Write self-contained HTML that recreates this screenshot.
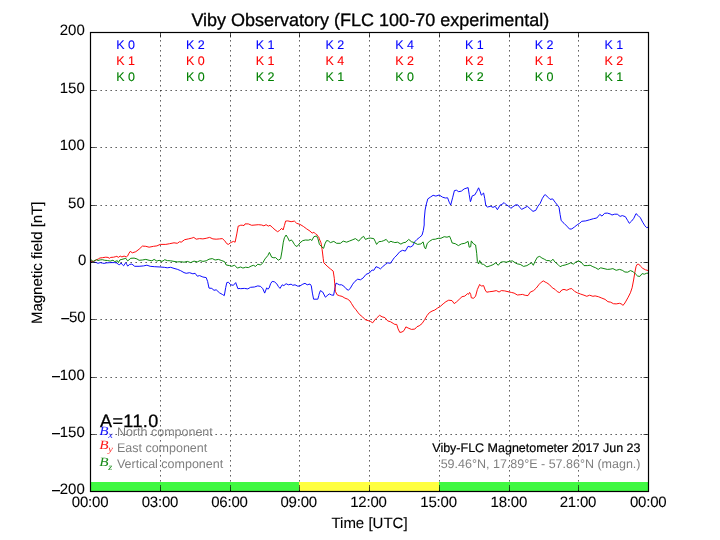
<!DOCTYPE html>
<html><head><meta charset="utf-8"><title>Viby Observatory</title>
<style>
html,body{margin:0;padding:0;background:#fff;}
body{width:720px;height:540px;overflow:hidden;position:relative;font-family:"Liberation Sans",sans-serif;}
</style></head><body>
<svg width="720" height="540" viewBox="0 0 720 540" style="position:absolute;left:0;top:0;will-change:transform;text-rendering:geometricPrecision;font-family:'Liberation Sans',sans-serif">
<rect x="0" y="0" width="720" height="540" fill="#fff"/>
<rect x="90.50" y="482" width="208.50" height="9.5" fill="#40f842"/>
<rect x="299.00" y="482" width="140.00" height="9.5" fill="#ffff40"/>
<rect x="439.00" y="482" width="209.50" height="9.5" fill="#40f842"/>
<g stroke="#000" stroke-width="0.62" stroke-dasharray="1.6,3.4" fill="none">
<line x1="160.50" y1="491.60" x2="160.50" y2="32.50"/>
<line x1="230.50" y1="491.60" x2="230.50" y2="32.50"/>
<line x1="299.50" y1="491.60" x2="299.50" y2="32.50"/>
<line x1="369.50" y1="491.60" x2="369.50" y2="32.50"/>
<line x1="439.50" y1="491.60" x2="439.50" y2="32.50"/>
<line x1="509.50" y1="491.60" x2="509.50" y2="32.50"/>
<line x1="578.50" y1="491.60" x2="578.50" y2="32.50"/>
<line x1="90.40" y1="434.50" x2="648.50" y2="434.50"/>
<line x1="90.40" y1="377.50" x2="648.50" y2="377.50"/>
<line x1="90.40" y1="319.50" x2="648.50" y2="319.50"/>
<line x1="90.40" y1="262.50" x2="648.50" y2="262.50"/>
<line x1="90.40" y1="205.50" x2="648.50" y2="205.50"/>
<line x1="90.40" y1="147.50" x2="648.50" y2="147.50"/>
<line x1="90.40" y1="90.50" x2="648.50" y2="90.50"/>
</g>
<g clip-path="url(#ax)">
<polyline points="91.1,261.6 93.6,262.0 96.3,262.6 98.0,263.3 100.2,262.6 102.4,263.1 104.1,263.4 106.3,262.9 109.1,262.7 111.9,262.6 114.7,262.6 116.9,263.0 118.3,264.4 119.7,264.7 121.1,263.0 122.4,264.7 123.6,265.8 124.9,263.8 125.8,262.7 126.9,264.7 127.7,266.1 129.7,264.4 131.9,264.1 134.7,266.3 139.1,266.3 143.6,265.9 146.9,265.2 150.2,266.3 154.7,266.7 160.2,267.0 164.0,267.3 164.7,267.4 167.3,267.8 170.7,267.3 174.0,268.4 177.3,269.3 180.7,270.7 184.0,272.6 186.2,273.3 189.6,272.7 192.9,273.8 195.1,273.3 197.3,276.2 199.6,275.6 202.9,277.0 206.2,277.6 207.6,281.4 209.0,288.1 211.8,288.4 214.0,290.3 216.2,289.8 219.6,292.9 222.3,294.4 224.3,295.6 225.7,287.6 226.8,282.6 228.4,282.2 230.7,284.8 233.4,285.3 235.7,282.6 237.9,288.7 240.0,288.4 240.7,288.7 244.0,288.4 244.4,288.4 247.8,288.9 250.6,287.3 254.4,287.0 257.8,285.9 260.6,286.4 262.8,288.7 264.7,293.1 266.7,287.8 267.8,289.2 269.1,288.1 270.6,283.7 272.2,281.4 274.4,281.8 276.7,283.7 278.3,286.4 280.0,288.4 282.2,284.8 283.9,285.6 286.1,283.7 288.3,284.8 291.1,284.2 292.8,285.3 295.0,284.8 297.8,286.2 300.0,285.9 302.8,284.2 305.0,283.3 307.2,284.8 310.0,284.0 311.3,285.9 312.4,293.1 313.6,299.2 317.7,299.2 317.8,299.2 318.9,295.3 319.1,294.2 320.4,290.6 322.7,292.0 325.4,297.2 327.1,295.7 329.3,293.9 331.6,295.0 333.6,295.3 334.7,289.2 336.0,283.1 337.7,283.9 339.3,284.8 341.6,284.8 343.8,286.1 346.0,288.7 348.4,290.3 350.4,288.1 352.7,284.2 354.9,281.4 357.7,279.2 360.4,279.8 363.2,277.9 366.0,274.4 369.3,273.0 372.1,270.0 373.8,270.3 376.0,266.7 378.8,267.8 380.4,268.9 382.7,266.7 385.4,264.4 387.7,262.8 390.4,263.3 392.7,260.0 394.2,257.8 394.9,257.2 397.0,255.0 399.8,251.7 402.6,250.3 405.3,251.1 408.1,246.3 410.3,247.0 412.6,245.9 414.8,241.7 417.0,239.4 419.8,237.2 422.0,235.2 423.3,230.6 424.2,225.0 424.2,220.0 425.1,210.0 426.4,203.9 427.8,198.9 430.3,197.2 433.1,195.3 435.9,196.1 439.2,195.0 442.6,197.2 445.3,198.0 447.6,197.8 449.2,202.2 450.7,205.0 452.6,197.8 454.4,190.6 456.4,190.2 458.7,191.7 461.4,191.1 464.2,188.9 468.1,187.6 469.2,194.4 470.4,201.7 470.7,201.1 472.2,195.9 474.7,195.0 476.7,191.7 478.6,187.8 480.2,191.7 481.3,195.2 483.6,193.0 484.7,198.3 485.8,205.6 487.4,207.0 490.8,206.3 493.0,207.4 495.2,206.3 497.4,209.7 500.2,205.0 501.9,204.4 504.1,202.6 506.3,204.8 508.6,206.1 510.8,208.3 513.0,206.7 515.8,204.8 518.0,205.0 519.7,207.2 521.6,209.4 524.1,208.1 527.4,206.3 530.2,208.9 533.0,211.4 535.8,210.3 538.0,206.1 540.2,203.3 542.4,198.3 544.7,194.8 545.7,195.0 546.9,196.1 547.9,197.2 550.1,199.4 552.7,198.9 555.1,202.2 557.3,205.0 559.0,207.2 560.1,214.4 561.2,220.6 564.0,223.3 566.8,226.1 569.6,229.1 571.8,228.9 574.6,226.9 577.3,224.7 579.6,223.3 581.8,221.3 585.7,220.9 589.6,219.8 593.4,218.7 596.8,218.0 598.4,216.1 599.8,214.4 602.0,216.1 604.6,213.3 607.3,213.1 610.1,213.9 612.0,215.0 614.6,214.2 617.3,214.2 620.1,216.4 622.3,215.6 625.4,216.7 627.7,220.6 629.3,223.3 631.6,221.1 633.8,218.3 636.0,213.6 638.2,215.6 640.4,217.8 642.7,222.2 644.9,225.8 646.6,227.6 648.4,227.2" fill="none" stroke="#0000ff" stroke-width="0.95" stroke-linejoin="round"/>
<polyline points="90.8,261.1 91.3,261.3 93.6,261.3 96.3,259.9 98.6,258.8 99.9,258.0 102.4,257.7 105.8,257.2 108.0,257.4 109.4,258.3 110.8,257.4 113.6,257.2 115.8,256.6 116.9,256.3 118.3,257.4 120.2,256.1 121.9,256.9 124.1,256.1 126.3,256.9 127.7,255.9 128.6,253.9 130.2,251.4 132.4,252.8 135.8,251.7 139.1,249.2 142.4,246.1 145.8,246.3 149.1,247.2 153.6,246.3 156.9,245.9 160.2,244.4 164.0,244.4 165.8,244.4 169.6,243.7 174.0,242.8 177.3,243.3 179.6,241.7 181.2,242.2 184.6,239.7 188.4,238.9 191.8,238.1 193.8,237.4 196.2,239.2 199.6,238.6 202.9,238.9 206.2,238.3 209.6,237.4 212.9,238.9 216.2,239.2 219.6,238.9 222.3,238.6 224.6,240.6 226.8,243.7 228.4,244.4 230.7,242.6 233.4,241.4 235.1,242.2 236.8,233.9 238.2,226.1 240.0,225.6 240.7,225.2 242.8,225.3 244.0,225.6 245.0,223.9 248.3,223.9 251.7,225.3 255.0,225.0 258.3,224.7 261.7,225.0 263.9,225.8 266.1,224.7 268.3,226.1 270.0,225.3 272.2,227.2 275.0,229.8 277.6,231.7 279.4,230.6 281.7,228.3 283.1,230.0 284.4,225.6 285.6,221.1 287.8,220.9 291.1,221.7 294.4,221.1 296.7,223.3 300.0,224.4 303.3,226.4 306.7,228.9 310.0,231.1 312.2,233.1 313.9,232.2 316.0,234.4 316.7,234.4 317.7,236.1 318.9,237.2 319.3,238.9 321.0,242.8 322.1,249.4 323.2,258.3 323.8,262.8 327.1,266.1 330.4,268.9 333.2,271.1 334.3,278.3 334.7,283.7 335.4,291.4 337.1,294.8 339.3,295.7 342.1,296.4 344.9,298.1 347.7,299.2 349.9,300.9 351.6,303.7 353.8,307.2 356.0,309.8 358.2,312.8 359.9,314.8 362.7,317.0 365.4,319.8 368.2,320.6 370.4,321.4 372.7,322.8 374.9,319.8 377.1,317.6 379.6,315.3 382.1,316.8 384.9,317.6 387.7,320.9 390.4,321.7 393.2,323.4 394.8,324.4 396.7,324.4 398.1,328.9 399.8,332.4 402.0,332.0 404.0,330.6 405.9,326.9 408.1,328.0 411.4,329.4 414.8,329.1 417.0,326.7 419.2,325.8 422.0,323.6 424.8,319.4 427.0,315.6 429.2,312.8 432.0,311.1 434.8,310.0 437.6,308.0 440.3,306.4 443.1,303.9 445.9,301.7 448.7,300.2 452.0,300.6 454.2,303.6 456.4,302.0 459.2,299.4 462.0,296.7 464.8,296.1 467.6,293.6 468.4,294.4 469.6,292.4 470.7,294.4 471.3,297.8 471.4,297.8 473.6,298.3 475.6,296.1 477.4,289.4 479.7,284.4 481.3,286.1 483.6,285.6 485.2,290.0 486.7,292.2 489.7,291.7 493.0,291.3 496.3,290.6 499.1,292.0 501.3,290.6 504.7,290.9 508.0,291.7 511.3,292.4 514.1,293.1 517.4,295.0 520.2,294.7 522.4,294.4 525.2,295.3 528.0,295.6 530.2,292.2 533.6,290.6 536.3,288.0 539.1,284.4 541.3,282.2 543.3,280.9 545.8,282.4 546.8,282.8 549.6,284.8 552.3,287.8 555.1,289.4 557.3,291.7 559.6,292.6 561.8,290.0 564.0,289.4 566.8,290.3 569.6,288.9 571.8,288.6 574.6,291.4 577.3,292.8 580.7,294.1 584.0,295.2 586.8,296.3 589.6,295.2 592.9,296.3 595.1,295.9 598.4,296.7 601.8,298.1 605.1,299.4 607.9,301.7 610.7,302.2 613.4,303.7 616.2,303.9 619.6,303.3 621.8,304.1 622.7,305.3 624.0,304.4 626.0,301.1 628.2,297.2 630.4,292.8 632.1,287.8 633.6,280.0 634.9,272.2 636.0,266.7 637.1,264.4 638.8,264.2 640.4,266.1 642.7,268.3 645.4,269.8 648.4,270.6" fill="none" stroke="#ff0000" stroke-width="0.95" stroke-linejoin="round"/>
<polyline points="91.1,259.4 92.2,261.1 93.6,261.3 95.2,260.3 96.6,259.7 98.0,260.5 100.2,259.9 102.4,259.7 104.7,260.3 107.4,260.5 110.2,261.1 113.0,260.2 114.7,261.6 116.3,261.1 117.2,260.5 118.4,262.6 119.9,259.9 121.9,259.4 124.1,258.8 125.8,258.3 126.9,259.9 127.7,260.9 130.8,258.3 134.1,258.1 136.9,258.9 139.1,260.3 142.4,260.0 145.8,259.4 149.1,260.3 151.9,260.8 154.1,259.4 156.9,261.1 159.1,260.3 161.9,261.4 164.0,260.3 164.7,259.7 167.3,260.6 170.7,260.8 174.0,261.4 177.3,261.9 180.7,261.7 184.0,262.2 187.3,261.4 190.7,262.6 194.0,261.1 197.3,261.9 200.1,260.6 202.9,261.4 206.2,260.8 209.0,259.2 212.3,258.6 215.1,260.0 218.4,259.4 221.8,260.6 224.6,261.7 226.2,265.0 229.6,265.6 231.8,266.3 234.6,265.2 237.3,268.1 240.0,267.2 240.7,267.0 242.8,268.0 244.0,267.8 245.6,267.2 248.3,267.6 251.1,266.1 253.3,265.3 255.6,266.4 257.8,264.2 260.6,265.0 262.8,262.8 265.0,258.9 267.8,255.6 269.4,252.4 271.7,257.2 273.9,257.8 275.6,257.6 278.3,260.2 280.6,258.9 282.0,251.1 283.3,242.2 284.4,237.8 286.1,235.0 287.8,237.8 289.4,241.1 291.1,240.0 292.2,240.6 294.4,244.4 296.1,246.4 297.8,245.8 300.0,242.8 302.8,240.6 305.6,240.0 308.3,240.2 310.6,239.4 311.7,240.6 313.9,236.7 316.0,236.1 316.7,236.1 317.7,238.3 318.3,240.0 319.3,243.9 319.4,244.4 321.6,246.7 323.6,248.3 324.9,243.9 326.6,240.6 328.2,240.8 330.4,242.6 333.8,241.4 336.6,243.3 340.4,243.3 343.2,241.1 346.6,242.2 349.3,241.1 352.1,240.0 355.4,238.6 358.8,241.1 361.0,238.3 363.6,236.3 365.4,239.4 368.2,238.3 370.4,238.1 373.8,238.6 375.4,241.7 376.6,244.4 378.8,241.7 381.6,241.4 383.8,240.6 386.2,239.4 388.8,242.6 391.0,241.1 392.0,241.9 393.8,242.2 394.8,242.6 397.6,242.2 400.9,244.1 403.1,242.8 405.9,242.2 408.7,239.4 411.4,241.7 414.2,242.6 417.6,244.4 420.9,243.9 423.1,241.9 424.4,247.2 425.6,248.9 427.3,243.3 429.8,241.1 432.6,239.4 435.3,239.2 438.1,238.3 440.9,238.3 444.2,236.7 447.0,237.2 449.6,236.3 450.9,239.4 452.2,243.0 455.3,243.7 458.4,245.6 461.4,243.9 464.8,243.3 468.1,241.4 469.2,247.2 470.7,246.7 471.3,240.9 471.4,241.1 473.6,243.9 475.6,245.0 476.7,253.3 477.4,261.7 478.6,263.9 479.7,260.6 481.3,263.9 483.6,264.4 486.9,266.9 490.2,265.8 493.0,264.7 495.8,262.8 498.2,265.3 500.8,262.2 503.6,261.7 506.3,262.2 509.7,261.3 512.4,260.9 515.2,262.8 517.4,263.9 520.2,264.4 523.6,266.4 526.9,265.6 529.7,263.9 531.6,262.8 533.3,265.3 535.2,261.1 537.4,257.2 539.7,256.4 541.9,258.0 544.7,259.4 546.2,260.3 546.9,260.6 549.0,260.6 550.9,261.4 552.9,259.2 555.1,262.2 557.9,264.4 560.1,266.7 562.3,265.6 565.1,265.0 567.9,264.1 570.7,262.8 573.4,264.1 576.2,261.7 578.7,261.1 581.2,262.2 584.0,265.6 587.3,265.6 590.1,265.2 592.9,266.7 595.7,267.8 598.2,269.4 600.7,267.8 604.0,268.6 607.3,269.4 610.1,269.2 612.9,268.6 616.2,270.3 619.6,269.4 622.3,270.3 624.9,272.0 627.7,272.2 630.4,270.6 633.2,271.7 635.4,273.9 637.7,276.1 639.9,276.4 642.1,273.6 644.3,274.2 646.6,273.3 648.4,273.1" fill="none" stroke="#008000" stroke-width="0.95" stroke-linejoin="round"/>
</g>
<defs><clipPath id="ax"><rect x="90.5" y="32.5" width="558.0" height="459.0"/></clipPath></defs>
<g stroke="#000" stroke-width="0.7">
<line x1="90.50" y1="491.50" x2="90.50" y2="486.50"/>
<line x1="90.50" y1="32.50" x2="90.50" y2="37.50"/>
<line x1="160.50" y1="491.50" x2="160.50" y2="486.50"/>
<line x1="160.50" y1="32.50" x2="160.50" y2="37.50"/>
<line x1="230.50" y1="491.50" x2="230.50" y2="486.50"/>
<line x1="230.50" y1="32.50" x2="230.50" y2="37.50"/>
<line x1="299.50" y1="491.50" x2="299.50" y2="486.50"/>
<line x1="299.50" y1="32.50" x2="299.50" y2="37.50"/>
<line x1="369.50" y1="491.50" x2="369.50" y2="486.50"/>
<line x1="369.50" y1="32.50" x2="369.50" y2="37.50"/>
<line x1="439.50" y1="491.50" x2="439.50" y2="486.50"/>
<line x1="439.50" y1="32.50" x2="439.50" y2="37.50"/>
<line x1="509.50" y1="491.50" x2="509.50" y2="486.50"/>
<line x1="509.50" y1="32.50" x2="509.50" y2="37.50"/>
<line x1="578.50" y1="491.50" x2="578.50" y2="486.50"/>
<line x1="578.50" y1="32.50" x2="578.50" y2="37.50"/>
<line x1="648.50" y1="491.50" x2="648.50" y2="486.50"/>
<line x1="648.50" y1="32.50" x2="648.50" y2="37.50"/>
<line x1="90.50" y1="491.50" x2="95.50" y2="491.50"/>
<line x1="648.50" y1="491.50" x2="643.50" y2="491.50"/>
<line x1="90.50" y1="434.50" x2="95.50" y2="434.50"/>
<line x1="648.50" y1="434.50" x2="643.50" y2="434.50"/>
<line x1="90.50" y1="377.50" x2="95.50" y2="377.50"/>
<line x1="648.50" y1="377.50" x2="643.50" y2="377.50"/>
<line x1="90.50" y1="319.50" x2="95.50" y2="319.50"/>
<line x1="648.50" y1="319.50" x2="643.50" y2="319.50"/>
<line x1="90.50" y1="262.50" x2="95.50" y2="262.50"/>
<line x1="648.50" y1="262.50" x2="643.50" y2="262.50"/>
<line x1="90.50" y1="205.50" x2="95.50" y2="205.50"/>
<line x1="648.50" y1="205.50" x2="643.50" y2="205.50"/>
<line x1="90.50" y1="147.50" x2="95.50" y2="147.50"/>
<line x1="648.50" y1="147.50" x2="643.50" y2="147.50"/>
<line x1="90.50" y1="90.50" x2="95.50" y2="90.50"/>
<line x1="648.50" y1="90.50" x2="643.50" y2="90.50"/>
<line x1="90.50" y1="32.50" x2="95.50" y2="32.50"/>
<line x1="648.50" y1="32.50" x2="643.50" y2="32.50"/>
</g>
<rect x="90.5" y="32.5" width="558.0" height="459.0" fill="none" stroke="#000" stroke-width="1.2"/>
<text x="370.3" y="26" font-size="18" text-anchor="middle" fill="#000" stroke="#000" stroke-width="0.3">Viby Observatory (FLC 100-70 experimental)</text>
<text x="84.80" y="494.25" font-size="15" text-anchor="end" fill="#000" stroke="#000" stroke-width="0.08">200</text>
<rect x="52.02" y="490.00" width="7.95" height="1.3" fill="#000"/>
<text x="84.80" y="437.25" font-size="15" text-anchor="end" fill="#000" stroke="#000" stroke-width="0.08">150</text>
<rect x="52.02" y="433.00" width="7.95" height="1.3" fill="#000"/>
<text x="84.80" y="380.25" font-size="15" text-anchor="end" fill="#000" stroke="#000" stroke-width="0.08">100</text>
<rect x="52.02" y="376.00" width="7.95" height="1.3" fill="#000"/>
<text x="85.70" y="322.25" font-size="15" text-anchor="end" fill="#000" stroke="#000" stroke-width="0.08">50</text>
<rect x="61.27" y="318.00" width="7.95" height="1.3" fill="#000"/>
<text x="86.40" y="265.25" font-size="15" text-anchor="end" fill="#000" stroke="#000" stroke-width="0.08">0</text>
<text x="84.80" y="208.25" font-size="15" text-anchor="end" fill="#000" stroke="#000" stroke-width="0.08">50</text>
<text x="84.80" y="150.25" font-size="15" text-anchor="end" fill="#000" stroke="#000" stroke-width="0.08">100</text>
<text x="84.80" y="93.25" font-size="15" text-anchor="end" fill="#000" stroke="#000" stroke-width="0.08">150</text>
<text x="84.80" y="35.25" font-size="15" text-anchor="end" fill="#000" stroke="#000" stroke-width="0.08">200</text>
<text x="90.10" y="506.7" font-size="15" letter-spacing="-0.2" text-anchor="middle" fill="#000" stroke="#000" stroke-width="0.08">00:00</text>
<text x="160.00" y="506.7" font-size="15" letter-spacing="-0.2" text-anchor="middle" fill="#000" stroke="#000" stroke-width="0.08">03:00</text>
<text x="229.40" y="506.7" font-size="15" letter-spacing="-0.2" text-anchor="middle" fill="#000" stroke="#000" stroke-width="0.08">06:00</text>
<text x="298.70" y="506.7" font-size="15" letter-spacing="-0.2" text-anchor="middle" fill="#000" stroke="#000" stroke-width="0.08">09:00</text>
<text x="368.40" y="506.7" font-size="15" letter-spacing="-0.2" text-anchor="middle" fill="#000" stroke="#000" stroke-width="0.08">12:00</text>
<text x="438.60" y="506.7" font-size="15" letter-spacing="-0.2" text-anchor="middle" fill="#000" stroke="#000" stroke-width="0.08">15:00</text>
<text x="508.80" y="506.7" font-size="15" letter-spacing="-0.2" text-anchor="middle" fill="#000" stroke="#000" stroke-width="0.08">18:00</text>
<text x="578.00" y="506.7" font-size="15" letter-spacing="-0.2" text-anchor="middle" fill="#000" stroke="#000" stroke-width="0.08">21:00</text>
<text x="648.20" y="506.7" font-size="15" letter-spacing="-0.2" text-anchor="middle" fill="#000" stroke="#000" stroke-width="0.08">00:00</text>
<text x="369.5" y="528" font-size="15" text-anchor="middle" fill="#000" stroke="#000" stroke-width="0.12">Time [UTC]</text>
<text transform="translate(42,262.8) rotate(-90)" font-size="15" text-anchor="middle" fill="#000" stroke="#000" stroke-width="0.12">Magnetic field [nT]</text>
<text x="125.58" y="48.7" font-size="12.5" text-anchor="middle" fill="#0000ff" stroke="#0000ff" stroke-width="0.08">K 0</text>
<text x="125.58" y="65.2" font-size="12.5" text-anchor="middle" fill="#ff0000" stroke="#ff0000" stroke-width="0.08">K 1</text>
<text x="125.58" y="80.9" font-size="12.5" text-anchor="middle" fill="#008000" stroke="#008000" stroke-width="0.08">K 0</text>
<text x="195.32" y="48.7" font-size="12.5" text-anchor="middle" fill="#0000ff" stroke="#0000ff" stroke-width="0.08">K 2</text>
<text x="195.32" y="65.2" font-size="12.5" text-anchor="middle" fill="#ff0000" stroke="#ff0000" stroke-width="0.08">K 0</text>
<text x="195.32" y="80.9" font-size="12.5" text-anchor="middle" fill="#008000" stroke="#008000" stroke-width="0.08">K 0</text>
<text x="265.07" y="48.7" font-size="12.5" text-anchor="middle" fill="#0000ff" stroke="#0000ff" stroke-width="0.08">K 1</text>
<text x="265.07" y="65.2" font-size="12.5" text-anchor="middle" fill="#ff0000" stroke="#ff0000" stroke-width="0.08">K 1</text>
<text x="265.07" y="80.9" font-size="12.5" text-anchor="middle" fill="#008000" stroke="#008000" stroke-width="0.08">K 2</text>
<text x="334.82" y="48.7" font-size="12.5" text-anchor="middle" fill="#0000ff" stroke="#0000ff" stroke-width="0.08">K 2</text>
<text x="334.82" y="65.2" font-size="12.5" text-anchor="middle" fill="#ff0000" stroke="#ff0000" stroke-width="0.08">K 4</text>
<text x="334.82" y="80.9" font-size="12.5" text-anchor="middle" fill="#008000" stroke="#008000" stroke-width="0.08">K 1</text>
<text x="404.57" y="48.7" font-size="12.5" text-anchor="middle" fill="#0000ff" stroke="#0000ff" stroke-width="0.08">K 4</text>
<text x="404.57" y="65.2" font-size="12.5" text-anchor="middle" fill="#ff0000" stroke="#ff0000" stroke-width="0.08">K 2</text>
<text x="404.57" y="80.9" font-size="12.5" text-anchor="middle" fill="#008000" stroke="#008000" stroke-width="0.08">K 0</text>
<text x="474.32" y="48.7" font-size="12.5" text-anchor="middle" fill="#0000ff" stroke="#0000ff" stroke-width="0.08">K 1</text>
<text x="474.32" y="65.2" font-size="12.5" text-anchor="middle" fill="#ff0000" stroke="#ff0000" stroke-width="0.08">K 2</text>
<text x="474.32" y="80.9" font-size="12.5" text-anchor="middle" fill="#008000" stroke="#008000" stroke-width="0.08">K 2</text>
<text x="544.08" y="48.7" font-size="12.5" text-anchor="middle" fill="#0000ff" stroke="#0000ff" stroke-width="0.08">K 2</text>
<text x="544.08" y="65.2" font-size="12.5" text-anchor="middle" fill="#ff0000" stroke="#ff0000" stroke-width="0.08">K 1</text>
<text x="544.08" y="80.9" font-size="12.5" text-anchor="middle" fill="#008000" stroke="#008000" stroke-width="0.08">K 0</text>
<text x="613.83" y="48.7" font-size="12.5" text-anchor="middle" fill="#0000ff" stroke="#0000ff" stroke-width="0.08">K 1</text>
<text x="613.83" y="65.2" font-size="12.5" text-anchor="middle" fill="#ff0000" stroke="#ff0000" stroke-width="0.08">K 2</text>
<text x="613.83" y="80.9" font-size="12.5" text-anchor="middle" fill="#008000" stroke="#008000" stroke-width="0.08">K 1</text>
<text x="100" y="426.5" font-size="18" letter-spacing="0.4" fill="#000" stroke="#000" stroke-width="0.3">A=11.0</text>
<text transform="translate(99.3,434.6) scale(1.2,1)" font-size="12.7" font-family="'Liberation Serif',serif" font-style="italic" fill="#0000ff" fill-opacity="0.9">B</text>
<text transform="translate(108.3,437.8) scale(1.1,1)" font-size="9.3" font-family="'Liberation Serif',serif" font-style="italic" fill="#0000ff" fill-opacity="0.9">x</text>
<text x="116.9" y="435.9" font-size="12.5" fill="#808080">North component</text>
<text transform="translate(99.3,448.9) scale(1.2,1)" font-size="12.7" font-family="'Liberation Serif',serif" font-style="italic" fill="#ff0000" fill-opacity="0.9">B</text>
<text transform="translate(108.3,452.1) scale(1.1,1)" font-size="9.3" font-family="'Liberation Serif',serif" font-style="italic" fill="#ff0000" fill-opacity="0.9">y</text>
<text x="116.9" y="451.6" font-size="12.5" fill="#808080">East component</text>
<text transform="translate(99.3,466.4) scale(1.2,1)" font-size="12.7" font-family="'Liberation Serif',serif" font-style="italic" fill="#008000" fill-opacity="0.9">B</text>
<text transform="translate(108.3,469.6) scale(1.1,1)" font-size="9.3" font-family="'Liberation Serif',serif" font-style="italic" fill="#008000" fill-opacity="0.9">z</text>
<text x="116.9" y="467.8" font-size="12.5" fill="#808080">Vertical component</text>
<text x="640.5" y="451.8" font-size="12.5" text-anchor="end" fill="#000" stroke="#000" stroke-width="0.2">Viby-FLC Magnetometer 2017 Jun 23</text>
<text x="640.5" y="467.5" font-size="12.5" text-anchor="end" fill="#808080">59.46°N, 17.89°E - 57.86°N (magn.)</text>
</svg>
</body></html>
